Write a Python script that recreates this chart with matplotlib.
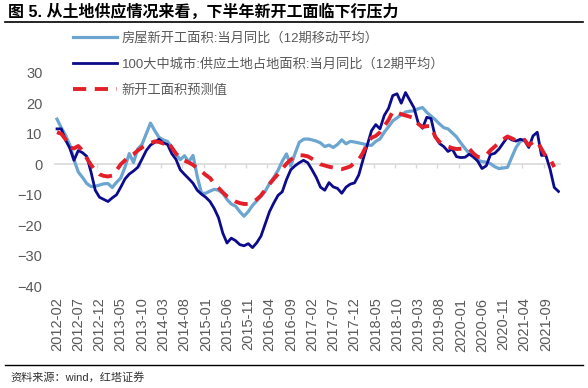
import matplotlib
matplotlib.use('Agg')
import matplotlib.pyplot as plt
from matplotlib.lines import Line2D
import numpy as np

plt.rcParams['font.family'] = ['Liberation Sans', 'Noto Sans CJK SC', 'DejaVu Sans']

# ---------------- data ----------------
start_year, start_month = 2012, 2

# 房屋新开工面积:当月同比（12期移动平均）
lb = [14.8, 12.0, 9.5, 6.4, 1.5, -2.5, -4.3, -6.3, -7.3, -7.2,
      -6.8, -6.4, -6.3, -7.6, -5.9, -4.5, -0.9, 3.5, 0.6, 5.0,
      6.5, 10.0, 13.5, 11.0, 8.8, 8.0, 7.5, 5.5, 3.3, 1.5,
      2.8, 0.8, 2.9, -4.0, -9.5, -9.5, -8.8, -8.2, -8.5, -9.5,
      -11.5, -13.0, -13.7, -15.5, -17.0, -15.5, -13.5, -12.0, -10.5, -8.8,
      -6.3, -4.3, -2.0, 1.0, 3.4, -0.5, 3.5, 7.2, 8.2, 8.3,
      8.0, 7.6, 7.0, 5.8, 6.3, 5.5, 6.5, 8.0, 6.7, 7.5,
      7.3, 7.0, 6.7, 6.3, 6.2, 7.5, 8.3, 10.5, 12.3, 14.2,
      15.2, 16.2, 17.1, 17.4, 17.5, 18.2, 18.6, 17.0, 15.8, 14.6,
      13.2, 12.0, 11.6, 10.3, 9.0, 7.0, 5.2, 3.5, 2.2, 1.3,
      0.9, 0.7, 0.2, -0.8, -1.4, -1.2, -1.0, 2.3, 5.5, 7.5,
      8.0]

# 100大中城市:供应土地占地面积:当月同比（12期平均）
db = [11.6, 11.6, 8.0, 5.3, 1.3, 4.5, 3.8, 2.6, -2.5, -8.5,
      -10.8, -11.5, -12.2, -11.0, -10.0, -7.5, -4.8, -3.2, -2.2, -1.0,
      1.7, 4.5, 6.3, 7.2, 8.2, 7.0, 6.5, 3.5, 1.6, -1.8,
      -3.3, -4.7, -6.2, -8.5, -9.8, -10.8, -12.2, -14.5, -17.5, -22.5,
      -25.8, -24.2, -25.0, -26.3, -26.7, -26.0, -27.3, -25.7, -23.5, -19.5,
      -15.5, -12.7, -10.2, -9.0, -5.0, -1.8, -0.5, 0.5, 1.3, 0.5,
      -1.8, -4.3, -7.5, -8.5, -6.0, -7.4, -7.9, -9.5, -7.5, -6.5,
      -6.1, -3.5, 1.5, 6.3, 11.0, 13.0, 11.6, 16.0, 18.3, 22.5,
      23.1, 20.0, 23.5, 21.0, 18.5, 13.5, 11.8, 15.4, 15.0, 9.0,
      6.8, 5.8, 4.2, 5.0, 2.5, 2.2, 2.3, 3.3, 2.5, 1.0,
      -1.4, -0.5, 3.2, 3.6, 5.0, 7.0, 8.9, 8.0, 7.6, 8.2,
      7.8, 5.5, 9.3, 10.5, 2.9, 3.0, -1.5, -7.6, -8.9]

# 新开工面积预测值
rd = [10.5, 10.0, 8.2, 5.5, 5.2, 6.0, 4.5, 2.0, -0.2, -2.0,
      -3.3, -3.8, -4.0, -3.7, -2.0, 0.0, 1.3, 2.5, 3.3, 4.5,
      5.5, 6.3, 7.0, 7.5, 7.3, 6.8, 7.6, 5.5, 3.5, 2.2,
      1.2, 0.6, -0.2, -1.3, -2.3, -3.5, -4.5, -6.3, -7.7, -9.2,
      -10.5, -11.4, -12.2, -12.7, -13.0, -13.0, -12.5, -11.5, -10.2, -8.3,
      -6.5, -4.8, -3.2, -1.5, 0.2, 1.5, 2.6, 3.0, 2.9, 2.6,
      1.8, 1.0, 0.0, -0.4, -0.8, -1.1, -1.5, -1.6, -1.2, -0.7,
      0.5, 1.5, 3.8, 6.8, 8.7, 9.3, 10.5, 12.5, 14.5, 17.3,
      17.0, 16.4, 16.0, 15.6, 15.2, 13.2, 12.2, 12.5, 12.5, 9.0,
      7.3, 6.6, 5.8, 5.3, 5.0, 5.1, 5.2, 5.1, 3.5, 2.4,
      2.4, 3.0, 4.6, 5.8, 7.0, 8.2, 9.1, 8.5, 7.8, 8.2,
      8.0, 6.2, 7.3, 7.6, 5.0, 2.6, 1.8, -0.9]

tick_labels = ['2012-02', '2012-07', '2012-12', '2013-05', '2013-10', '2014-03',
               '2014-08', '2015-01', '2015-06', '2015-11', '2016-04', '2016-09',
               '2017-02', '2017-07', '2017-12', '2018-05', '2018-10', '2019-03',
               '2019-08', '2020-01', '2020-06', '2020-11', '2021-04', '2021-09']

series_names = ['房屋新开工面积:当月同比（12期移动平均）',
                '100大中城市:供应土地占地面积:当月同比（12期平均）',
                '新开工面积预测值']

title = '图 5. 从土地供应情况来看，下半年新开工面临下行压力'
source = '资料来源：wind，红塔证券'

# month index positions
n_months = len(db)
months = [f'{start_year + (start_month - 1 + i) // 12}-{(start_month - 1 + i) % 12 + 1:02d}'
          for i in range(n_months)]
tick_pos = [months.index(t) for t in tick_labels]

# ---------------- figure ----------------
W, H = 588, 388
fig = plt.figure(figsize=(W / 100, H / 100), dpi=100)
ax = fig.add_axes([55 / W, (H - 286.4) / H, (560 - 55) / W, (286.4 - 72.7) / H])

c_lb = '#6ba5d0'
c_db = '#0b0b8c'
c_rd = '#e3202a'

l1, = ax.plot(np.arange(len(lb)), lb, color=c_lb, lw=2.3, zorder=3)
l2, = ax.plot(np.arange(len(db)), db, color=c_db, lw=2.0, zorder=4)
l3, = ax.plot(np.arange(len(rd)), rd, color=c_rd, lw=2.8, dashes=(3.4, 2.2), zorder=5)

ax.set_xlim(-0.47, 118.35)
ax.set_ylim(-40, 30)
ax.set_yticks(range(-40, 31, 10))
ax.tick_params(axis='y', length=0, pad=9, labelsize=10.5, labelcolor='#595959')
for s in ax.spines.values():
    s.set_visible(False)
ax.set_xticks(tick_pos, tick_labels, rotation=90)
ax.tick_params(axis='x', length=0, pad=8, labelsize=10.5, labelcolor='#595959')

# zero line with small ticks between categories
sec = ax.secondary_xaxis(40 / 70)
sec.set_alignment('bottom')
sec.set_xticks(np.arange(-0.5, n_months, 5))
sec.tick_params(axis='x', length=3, width=1, color='#d9d9d9',
                labelbottom=False, labeltop=False)
sec.spines['bottom'].set_color('#d9d9d9')
sec.spines['bottom'].set_linewidth(1.2)

leg = ax.legend([l1, l2, l3], series_names, loc='upper left',
                bbox_to_anchor=(73 / W, 1 - 32 / H), bbox_transform=fig.transFigure,
                frameon=False, borderpad=0, borderaxespad=0, handlelength=3.3,
                handletextpad=0.4, labelspacing=1.02, fontsize=9.5)
for t in leg.get_texts():
    t.set_color('#595959')

fig.text(8 / W, 1 - 12 / H, title, fontsize=11.5, fontweight='bold', va='center', ha='left')
fig.add_artist(Line2D([5 / W, 583 / W], [1 - 22 / H] * 2, color='black', lw=1.2))
fig.add_artist(Line2D([5 / W, 583 / W], [1 - 365 / H] * 2, color='black', lw=1.0))
fig.text(10 / W, 1 - 377 / H, source, fontsize=8, va='center', ha='left', color='#333333')

fig.savefig('out.png', dpi=100)
